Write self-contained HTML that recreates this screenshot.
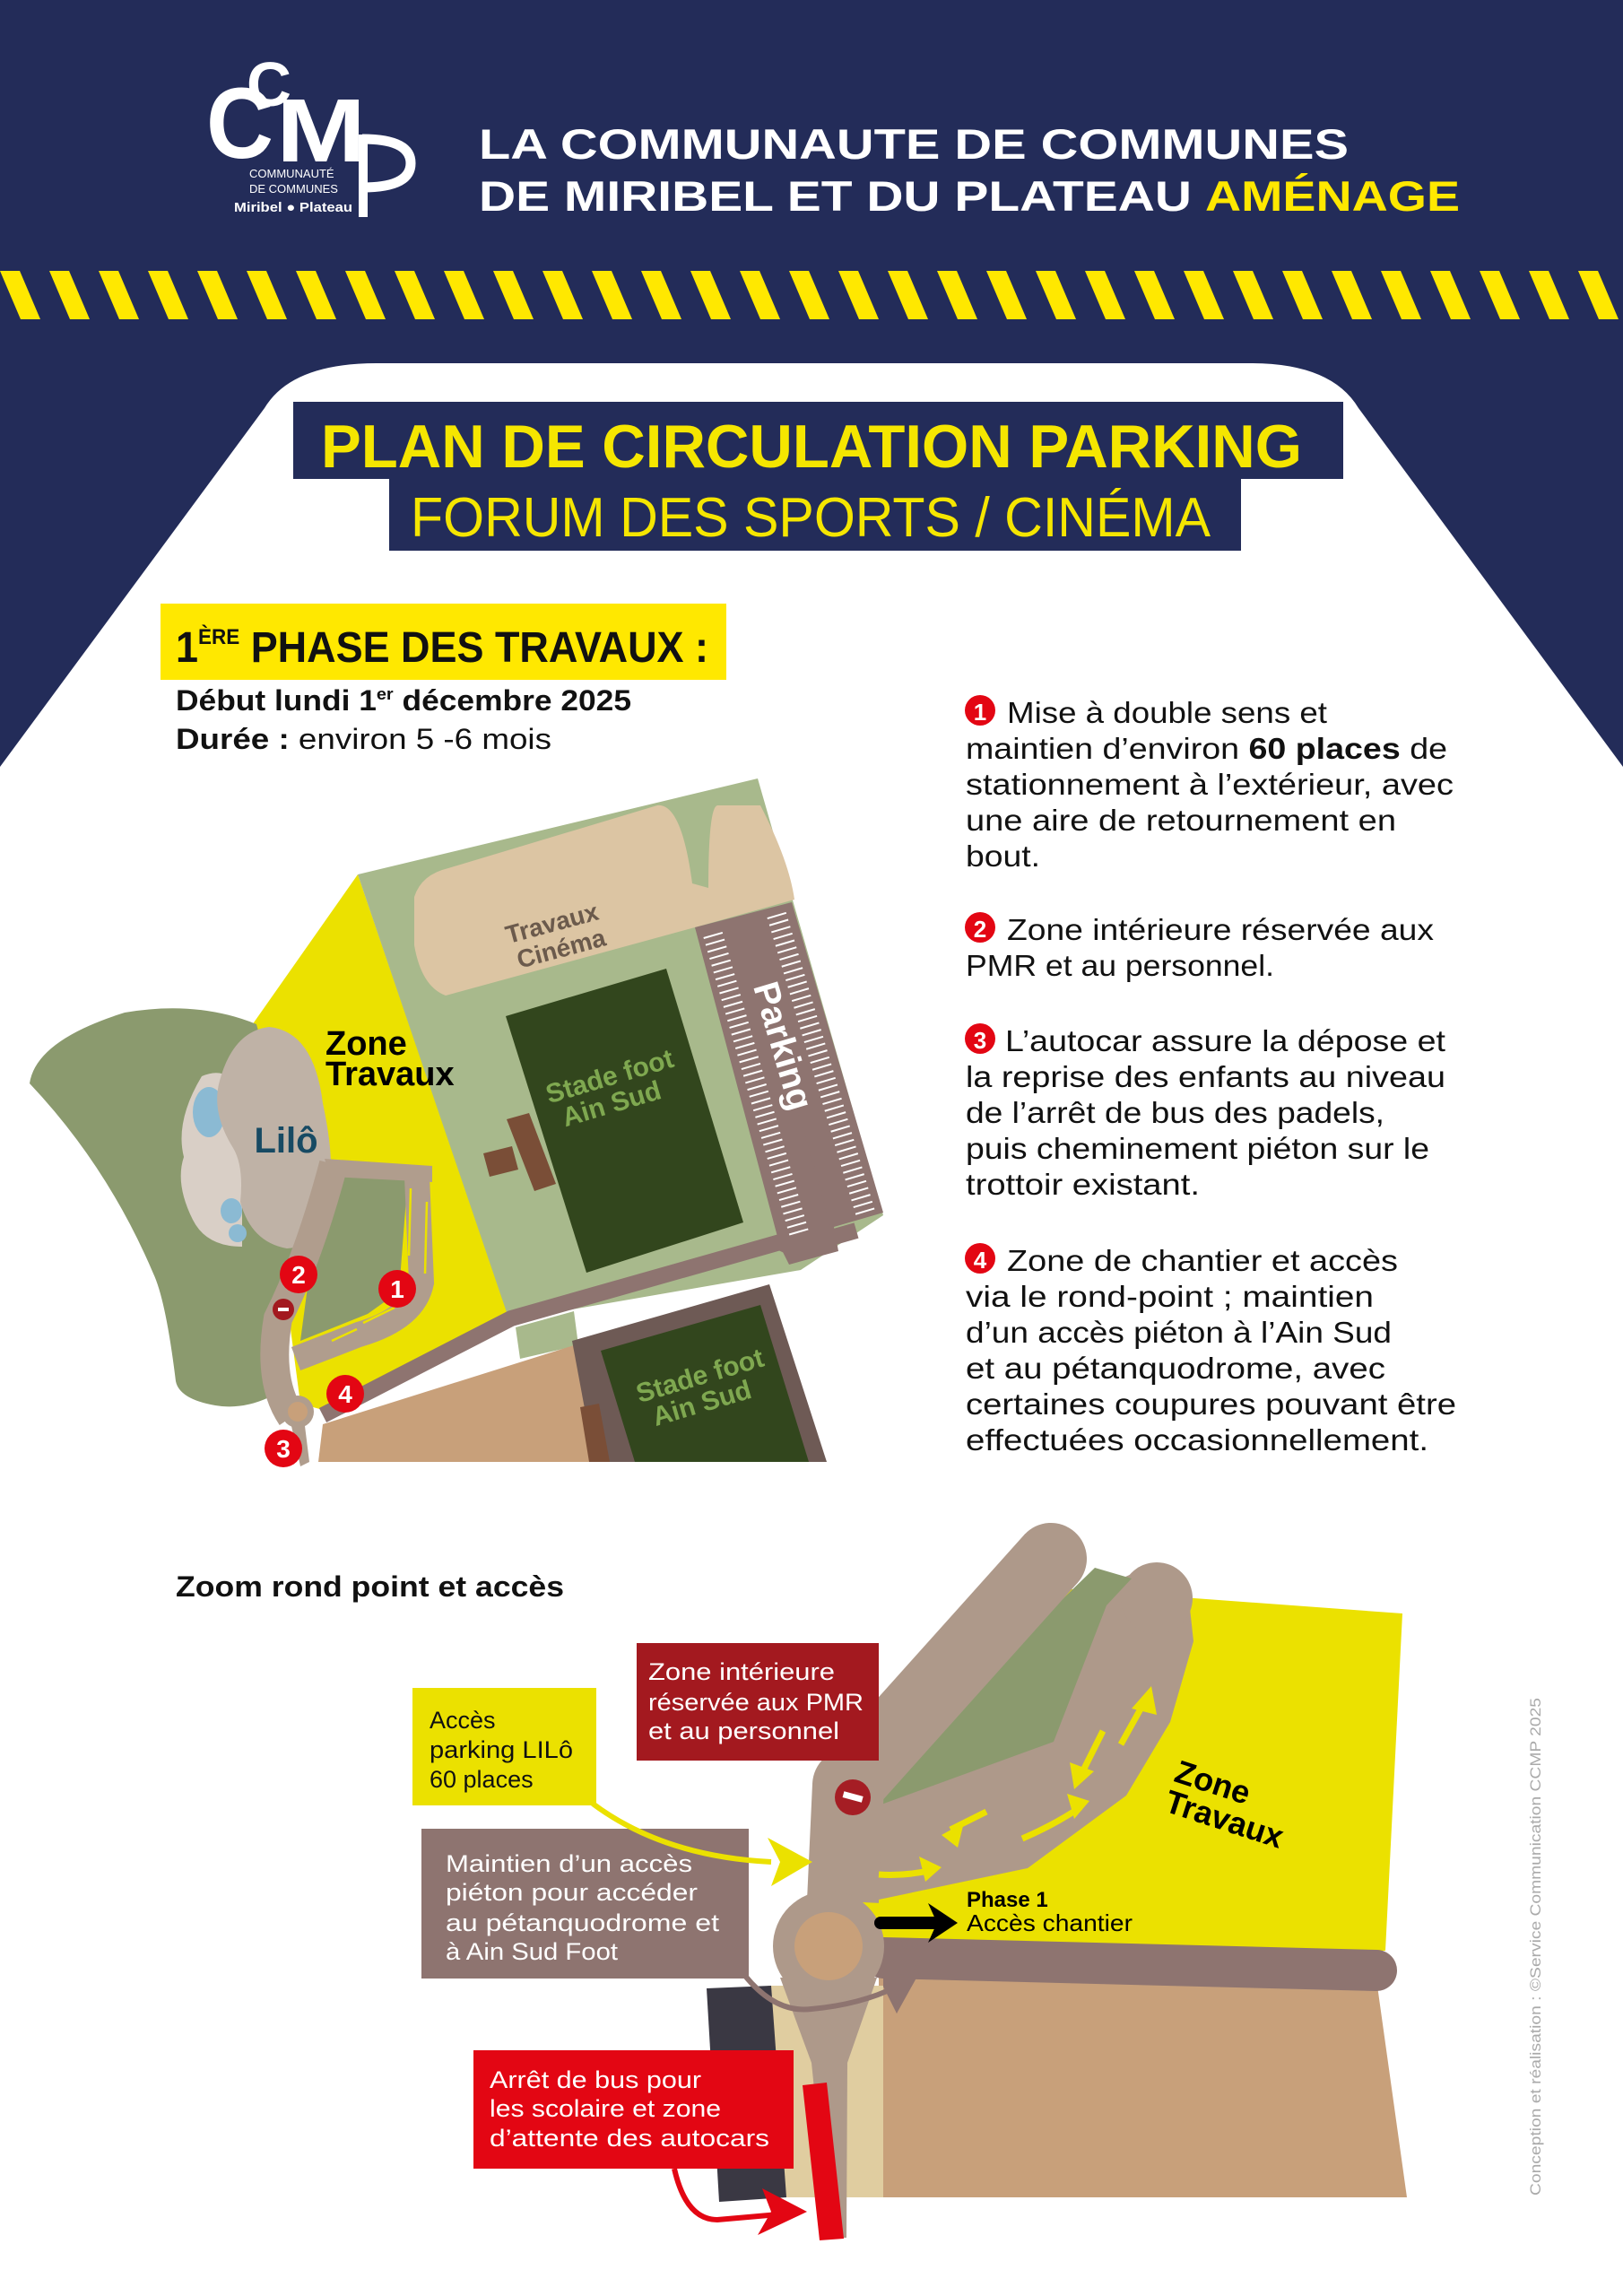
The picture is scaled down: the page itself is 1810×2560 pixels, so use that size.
<!DOCTYPE html>
<html><head><meta charset="utf-8"><style>html,body{margin:0;padding:0;background:#fff}svg{display:block}</style></head>
<body>
<svg width="1810" height="2560" viewBox="0 0 1810 2560" xmlns="http://www.w3.org/2000/svg" font-family="'Liberation Sans', sans-serif">
<defs>
<pattern id="st" patternUnits="userSpaceOnUse" x="0" y="302" width="55" height="54">
<polygon points="0,0 22,0 45,54 23,54" fill="#ffe800"/>
<polygon points="55,0 77,0 100,54 78,54" fill="#ffe800"/>
<polygon points="-55,0 -33,0 -10,54 -32,54" fill="#ffe800"/>
</pattern>
</defs>
<rect width="1810" height="900" fill="#232c59"/>
<rect x="0" y="302" width="1810" height="54" fill="url(#st)"/>
<path d="M0,855 L295,455 Q325,405 420,405 L1395,405 Q1485,405 1515,455 L1810,855 L1810,2560 L0,2560 Z" fill="#fff"/>

<!-- logo -->
<g fill="#fff" font-weight="bold">
<text x="230" y="176" font-size="112" textLength="75" lengthAdjust="spacingAndGlyphs">C</text>
<text x="275" y="118" font-size="70" textLength="50" lengthAdjust="spacingAndGlyphs">C</text>
<text x="308" y="180" font-size="100" textLength="100" lengthAdjust="spacingAndGlyphs">M</text>
<rect x="400" y="150" width="10" height="92"/>
<path d="M404,155 Q458,155 458,182 Q458,209 404,209" fill="none" stroke="#fff" stroke-width="11"/>
</g>
<g fill="#fff" font-size="13">
<text x="278" y="198">COMMUNAUTÉ</text>
<text x="278" y="215">DE COMMUNES</text>
<text x="261" y="236" font-weight="bold" font-size="15" textLength="132" lengthAdjust="spacingAndGlyphs">Miribel ● Plateau</text>
</g>
<g font-weight="bold" font-size="47">
<text x="534" y="177" fill="#fff" textLength="970" lengthAdjust="spacingAndGlyphs">LA COMMUNAUTE DE COMMUNES</text>
<text x="534" y="235" fill="#fff" textLength="795" lengthAdjust="spacingAndGlyphs">DE MIRIBEL ET DU PLATEAU</text>
<text x="1344" y="235" fill="#ffe800" textLength="284" lengthAdjust="spacingAndGlyphs">AMÉNAGE</text>
</g>

<!-- titles -->
<rect x="327" y="448" width="1171" height="86" fill="#232c59"/>
<rect x="434" y="530" width="950" height="84" fill="#232c59"/>
<text x="358" y="521" fill="#f5e600" font-weight="bold" font-size="68" textLength="1094" lengthAdjust="spacingAndGlyphs">PLAN DE CIRCULATION PARKING</text>
<text x="458" y="598" fill="#f5e600" font-size="62" textLength="892" lengthAdjust="spacingAndGlyphs">FORUM DES SPORTS / CINÉMA</text>

<rect x="179" y="673" width="631" height="85" fill="#ffe800"/>
<text x="196" y="738" font-weight="bold" font-size="48" fill="#111" textLength="594" lengthAdjust="spacingAndGlyphs">1<tspan font-size="24" dy="-20">ÈRE</tspan><tspan dy="20"> PHASE DES TRAVAUX :</tspan></text>
<text x="196" y="792" font-weight="bold" font-size="32" fill="#111" textLength="508" lengthAdjust="spacingAndGlyphs">Début lundi 1<tspan font-size="18" dy="-12">er</tspan><tspan dy="12"> décembre 2025</tspan></text>
<text x="196" y="835" font-size="32" fill="#111" textLength="419" lengthAdjust="spacingAndGlyphs"><tspan font-weight="bold">Durée :</tspan> environ 5 -6 mois</text>

<!-- right text -->
<g font-size="33" fill="#111">
<circle cx="1093" cy="792" r="17" fill="#e30613"/><text x="1093" y="803" fill="#fff" font-weight="bold" font-size="26" text-anchor="middle">1</text>
<text x="1123" y="806" textLength="357" lengthAdjust="spacingAndGlyphs">Mise à double sens et</text>
<text x="1077" y="846" textLength="537" lengthAdjust="spacingAndGlyphs">maintien d’environ <tspan font-weight="bold">60 places</tspan> de</text>
<text x="1077" y="886" textLength="544" lengthAdjust="spacingAndGlyphs">stationnement à l’extérieur, avec</text>
<text x="1077" y="926" textLength="480" lengthAdjust="spacingAndGlyphs">une aire de retournement en</text>
<text x="1077" y="966" textLength="83" lengthAdjust="spacingAndGlyphs">bout.</text>

<circle cx="1093" cy="1034" r="17" fill="#e30613"/><text x="1093" y="1045" fill="#fff" font-weight="bold" font-size="26" text-anchor="middle">2</text>
<text x="1123" y="1048" textLength="476" lengthAdjust="spacingAndGlyphs">Zone intérieure réservée aux</text>
<text x="1077" y="1088" textLength="344" lengthAdjust="spacingAndGlyphs">PMR et au personnel.</text>

<circle cx="1093" cy="1158" r="17" fill="#e30613"/><text x="1093" y="1169" fill="#fff" font-weight="bold" font-size="26" text-anchor="middle">3</text>
<text x="1121" y="1172" textLength="491" lengthAdjust="spacingAndGlyphs">L’autocar assure la dépose et</text>
<text x="1077" y="1212" textLength="535" lengthAdjust="spacingAndGlyphs">la reprise des enfants au niveau</text>
<text x="1077" y="1252" textLength="467" lengthAdjust="spacingAndGlyphs">de l’arrêt de bus des padels,</text>
<text x="1077" y="1292" textLength="517" lengthAdjust="spacingAndGlyphs">puis cheminement piéton sur le</text>
<text x="1077" y="1332" textLength="261" lengthAdjust="spacingAndGlyphs">trottoir existant.</text>

<circle cx="1093" cy="1403" r="17" fill="#e30613"/><text x="1093" y="1414" fill="#fff" font-weight="bold" font-size="26" text-anchor="middle">4</text>
<text x="1123" y="1417" textLength="436" lengthAdjust="spacingAndGlyphs">Zone de chantier et accès</text>
<text x="1077" y="1457" textLength="455" lengthAdjust="spacingAndGlyphs">via le rond-point ; maintien</text>
<text x="1077" y="1497" textLength="475" lengthAdjust="spacingAndGlyphs">d’un accès piéton à l’Ain Sud</text>
<text x="1077" y="1537" textLength="468" lengthAdjust="spacingAndGlyphs">et au pétanquodrome, avec</text>
<text x="1077" y="1577" textLength="547" lengthAdjust="spacingAndGlyphs">certaines coupures pouvant être</text>
<text x="1077" y="1617" textLength="516" lengthAdjust="spacingAndGlyphs">effectuées occasionnellement.</text>
</g>

<!-- MAP 1 -->
<polygon points="399,975 570,1475 360,1572 335,1565 300,1300 281,1143" fill="#ebe100"/>
<polygon points="399,975 845,868 985,1355 893,1416 568,1472" fill="#a8b98c"/>
<polygon points="575,1480 640,1462 645,1500 580,1515" fill="#a8b98c"/>
<path d="M462,1000 Q470,975 500,968 L733,898 Q760,895 772,985 L790,990 Q790,900 800,898 L848,898 Q880,960 886,1003 L775,1034 L497,1110 Q470,1100 462,1054 Z" fill="#dcc5a3"/>
<polygon points="775,1034 883,1006 985,1352 930,1368 935,1395 880,1410 870,1390" fill="#8e7470"/>
<line x1="795" y1="1042" x2="892" y2="1378" stroke="#fff" stroke-width="22" stroke-dasharray="2 6"/>
<line x1="866" y1="1020" x2="965" y2="1352" stroke="#fff" stroke-width="22" stroke-dasharray="2 6"/>
<line x1="818" y1="1036" x2="915" y2="1372" stroke="#8e7470" stroke-width="24"/>
<line x1="840" y1="1030" x2="940" y2="1364" stroke="#8e7470" stroke-width="24"/>
<text x="874" y="1180" transform="rotate(73.6 874 1166)" text-anchor="middle" fill="#fff" font-weight="bold" font-size="40">Parking</text>
<polygon points="564,1133 743,1080 829,1363 654,1419" fill="#32461d"/>
<polygon points="539,1286 571,1278 578,1304 546,1312" fill="#7a4e37"/>
<polygon points="565,1248 590,1241 620,1320 596,1328" fill="#7a4e37"/>
<g transform="rotate(-16.5 682 1212)" fill="#7fa850" font-weight="bold" font-size="30"><text x="610" y="1210">Stade  foot</text><text x="620" y="1240">Ain Sud</text></g>
<text x="555" y="1038" transform="rotate(-15 615 1000)" fill="#6b5a4c" font-weight="bold" font-size="28">Travaux</text>
<text x="560" y="1068" transform="rotate(-15 615 1000)" fill="#6b5a4c" font-weight="bold" font-size="28">Cinéma</text>
<!-- lower fields -->
<polygon points="360,1588 640,1500 663,1630 355,1630" fill="#c8a07a"/>
<polygon points="638,1495 858,1432 922,1630 663,1630" fill="#6e5a55"/>
<polygon points="670,1506 848,1455 902,1630 708,1630" fill="#32461d"/>
<polygon points="647,1569 668,1565 680,1630 657,1630" fill="#7a4e37"/>
<g transform="rotate(-16.5 778 1544)" fill="#7fa850" font-weight="bold" font-size="30"><text x="710" y="1545">Stade  foot</text><text x="720" y="1575">Ain Sud</text></g>
<polyline points="955,1372 885,1392 870,1385 570,1470 360,1578" fill="none" stroke="#8e7470" stroke-width="18"/>
<!-- left blob -->
<path d="M33,1208 Q40,1160 139,1129 Q220,1115 286,1142 L330,1300 L360,1300 Q330,1400 300,1520 L300,1558 Q270,1572 240,1567 Q200,1560 196,1540 Q185,1450 171,1420 Q120,1300 33,1208 Z" fill="#8b9a6e"/>
<path d="M225,1200 Q260,1185 270,1230 L270,1390 Q230,1390 215,1360 Q195,1320 205,1290 Q195,1250 225,1200 Z" fill="#d9cfc6"/>
<ellipse cx="233" cy="1240" rx="18" ry="28" fill="#8bbad3"/>
<ellipse cx="258" cy="1350" rx="12" ry="14" fill="#8bbad3"/>
<ellipse cx="265" cy="1375" rx="10" ry="10" fill="#8bbad3"/>
<path d="M300,1145 Q350,1150 360,1230 Q375,1300 365,1330 Q360,1390 320,1392 Q280,1385 268,1340 Q272,1300 260,1280 Q235,1240 245,1205 Q260,1150 300,1145 Z" fill="#bfb2a6"/>
<text x="319" y="1285" text-anchor="middle" fill="#174a63" font-weight="bold" font-size="40">Lilô</text>
<text x="363" y="1176" font-weight="bold" font-size="38" fill="#000">Zone</text>
<text x="363" y="1210" font-weight="bold" font-size="38" fill="#000">Travaux</text>
<!-- roads -->
<polygon points="370,1300 455,1310 445,1440 410,1465 335,1495 345,1420" fill="#8b9a6e"/>
<path d="M372,1298 Q345,1400 310,1470 Q298,1540 325,1580" fill="none" stroke="#b09d8d" stroke-width="32"/>
<path d="M465,1312 L470,1430 Q462,1470 400,1488 L330,1515" fill="none" stroke="#b09d8d" stroke-width="28"/>
<path d="M362,1292 L482,1300 L482,1318 L368,1312 Z" fill="#b09d8d"/>
<path d="M458,1325 L456,1400 M474,1420 L476,1340 M440,1458 L405,1475 M370,1495 L398,1482" fill="none" stroke="#ebe100" stroke-width="2.5"/>
<circle cx="332" cy="1574" r="18" fill="#b09d8d"/>
<circle cx="332" cy="1574" r="11" fill="#c8a07a"/>
<path d="M325,1590 L335,1635 L345,1630 L340,1590 Z" fill="#b09d8d"/>
<g font-weight="bold" font-size="28" fill="#fff" text-anchor="middle">
<circle cx="443" cy="1437" r="21" fill="#e30613"/><text x="443" y="1447">1</text>
<circle cx="333" cy="1421" r="21" fill="#e30613"/><text x="333" y="1431">2</text>
<circle cx="316" cy="1615" r="21" fill="#e30613"/><text x="316" y="1625">3</text>
<circle cx="385" cy="1554" r="21" fill="#e30613"/><text x="385" y="1564">4</text>
</g>
<circle cx="316" cy="1460" r="12" fill="#a3191f"/><rect x="310" y="1458" width="12" height="4" fill="#fff"/>

<!-- MAP 2 -->
<text x="196" y="1780" font-weight="bold" font-size="32" fill="#111" textLength="433" lengthAdjust="spacingAndGlyphs">Zoom rond point et accès</text>
<polygon points="980,2200 1536,2214 1569,2450 980,2450" fill="#c8a07a"/>
<polygon points="856,2214 985,2214 985,2450 856,2450" fill="#e0cda0"/>
<polygon points="788,2217 860,2214 877,2450 802,2455" fill="#3a3843"/>
<polygon points="1100,1765 1564,1799 1545,2175 960,2170 960,2100" fill="#ebe100"/>
<!-- lane B region -->
<polygon points="1240,1765 1290,1742 1325,1775 1331,1830 1305,1920 1256,2002 1146,2083 980,2118 960,2060 980,2011 1171,1940 1229,1788" fill="#ae998a"/>
<circle cx="1290" cy="1782" r="40" fill="#ae998a"/>
<polygon points="1221,1748 1262,1760 1234,1790 1175,1942 980,2013 970,1990 1146,1821" fill="#8b9a6e"/>
<line x1="1172" y1="1738" x2="946" y2="1990" stroke="#ae998a" stroke-width="80" stroke-linecap="round"/>
<line x1="946" y1="1990" x2="940" y2="2120" stroke="#ae998a" stroke-width="80"/>
<line x1="985" y1="2183" x2="1535" y2="2197" stroke="#8e7470" stroke-width="46" stroke-linecap="round"/>
<polygon points="985,2160 1030,2170 1000,2245 985,2215" fill="#8e7470"/>
<polygon points="870,2205 978,2205 945,2300 944,2495 925,2495 905,2300" fill="#ae998a"/>
<circle cx="924" cy="2170" r="62" fill="#ae998a"/>
<circle cx="924" cy="2170" r="38" fill="#c8a07a"/>
<polygon points="895,2325 922,2322 941,2496 914,2498" fill="#e30613"/>
<!-- yellow arrows -->
<g fill="none" stroke="#ebe100" stroke-width="7">
<path d="M980,2090 Q1010,2092 1040,2085"/><path d="M1140,2050 Q1175,2035 1205,2015"/>
<path d="M1100,2020 Q1080,2030 1060,2040"/><path d="M1230,1930 L1205,1980"/>
<path d="M1250,1945 L1275,1900"/>
</g>
<g fill="#ebe100">
<polygon points="1050,2082 1025,2070 1032,2098"/><polygon points="1215,2008 1190,2000 1198,2028"/>
<polygon points="1050,2046 1075,2032 1068,2060"/><polygon points="1198,1995 1193,1965 1220,1975"/>
<polygon points="1284,1880 1262,1905 1290,1912"/>
</g>
<circle cx="951" cy="2004" r="20" fill="#a51d24"/><rect x="940" y="2000" width="22" height="7" fill="#fff" transform="rotate(15 951 2004)"/>
<text x="1300" y="2005" transform="rotate(18 1365 2020)" font-weight="bold" font-size="36" fill="#000">Zone</text>
<text x="1300" y="2040" transform="rotate(18 1365 2020)" font-weight="bold" font-size="36" fill="#000">Travaux</text>
<line x1="982" y1="2144" x2="1045" y2="2144" stroke="#000" stroke-width="14" stroke-linecap="round"/>
<polygon points="1035,2122 1068,2144 1035,2166 1045,2144" fill="#000"/>
<text x="1078" y="2126" font-weight="bold" font-size="24" fill="#000">Phase 1</text>
<text x="1078" y="2153" font-size="26" fill="#000" textLength="185" lengthAdjust="spacingAndGlyphs">Accès chantier</text>

<!-- labels -->
<rect x="460" y="1882" width="205" height="131" fill="#ebe100"/>
<g font-size="27" fill="#111"><text x="479" y="1927">Accès</text><text x="479" y="1960" textLength="160" lengthAdjust="spacingAndGlyphs">parking LILô</text><text x="479" y="1993">60 places</text></g>
<rect x="710" y="1832" width="270" height="131" fill="#a3191f"/>
<g font-size="27" fill="#fff"><text x="723" y="1873" textLength="208" lengthAdjust="spacingAndGlyphs">Zone intérieure</text><text x="723" y="1907" textLength="240" lengthAdjust="spacingAndGlyphs">réservée aux PMR</text><text x="723" y="1939" textLength="213" lengthAdjust="spacingAndGlyphs">et au personnel</text></g>
<rect x="470" y="2039" width="365" height="167" fill="#8e7470"/>
<g font-size="27" fill="#fff"><text x="497" y="2087" textLength="275" lengthAdjust="spacingAndGlyphs">Maintien d’un accès</text><text x="497" y="2119" textLength="281" lengthAdjust="spacingAndGlyphs">piéton pour accéder</text><text x="497" y="2153" textLength="305" lengthAdjust="spacingAndGlyphs">au pétanquodrome et</text><text x="497" y="2185" textLength="192" lengthAdjust="spacingAndGlyphs">à Ain Sud Foot</text></g>
<path d="M661,2011 Q740,2070 860,2076" fill="none" stroke="#ebe100" stroke-width="6"/>
<polygon points="856,2049 906,2076 860,2103 870,2076" fill="#ebe100"/>
<path d="M831,2203 Q865,2245 905,2240 Q960,2235 1000,2215" fill="none" stroke="#8e7470" stroke-width="6"/>
<polygon points="985,2200 1025,2200 1000,2245" fill="#8e7470"/>
<rect x="528" y="2286" width="357" height="132" fill="#e30613"/>
<g font-size="27" fill="#fff"><text x="546" y="2328" textLength="236" lengthAdjust="spacingAndGlyphs">Arrêt de bus pour</text><text x="546" y="2360" textLength="258" lengthAdjust="spacingAndGlyphs">les scolaire et zone</text><text x="546" y="2393" textLength="312" lengthAdjust="spacingAndGlyphs">d’attente des autocars</text></g>
<path d="M752,2418 Q765,2475 800,2475 L880,2468" fill="none" stroke="#e30613" stroke-width="6"/>
<polygon points="850,2440 900,2466 845,2492 860,2466" fill="#e30613"/>

<text x="1718" y="2448" transform="rotate(-90 1718 2448)" font-size="17" fill="#aaa" textLength="555" lengthAdjust="spacingAndGlyphs">Conception et réalisation : ©Service Communication CCMP 2025</text>
</svg>
</body></html>
